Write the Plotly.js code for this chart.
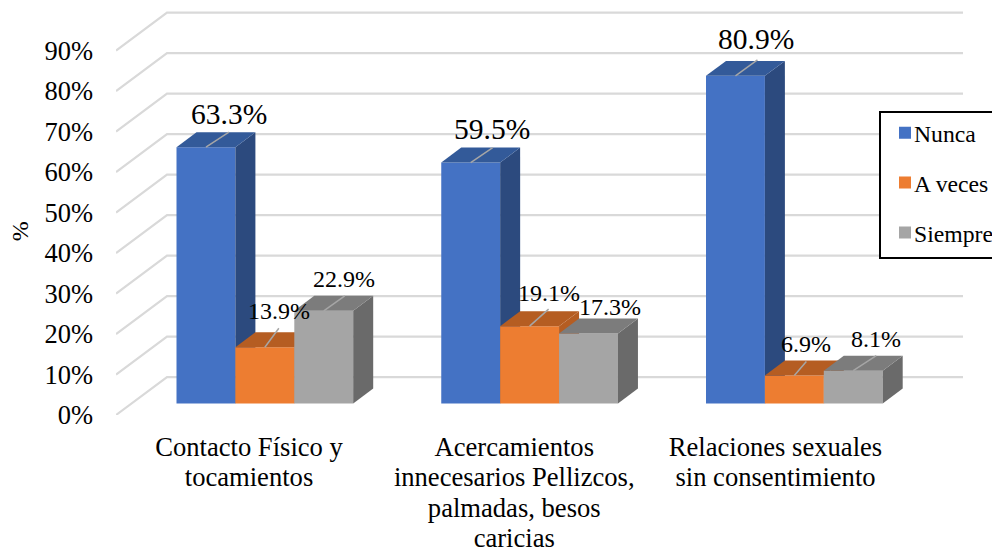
<!DOCTYPE html>
<html>
<head>
<meta charset="utf-8">
<script src="https://cdn.plot.ly/plotly-3.0.1.min.js"></script>
<style>html,body{margin:0;padding:0;background:#fff;overflow:hidden}</style>
</head>
<body>
<div id="chart" style="width:992px;height:547px"></div>
<script>
// ---- data ----
const categories = ['Contacto Físico y<br>tocamientos',
  'Acercamientos<br>innecesarios Pellizcos,<br>palmadas, besos<br>caricias',
  'Relaciones sexuales<br>sin consentimiento'];
const seriesNames = ['Nunca', 'A veces', 'Siempre'];
const nunca = [63.3, 59.5, 80.9];
const aVeces = [13.9, 19.1, 6.9];
const siempre = [22.9, 17.3, 8.1];
const yTicks = [0, 10, 20, 30, 40, 50, 60, 70, 80, 90];

// ---- styling and projection (not data) ----
const seriesValues = [nunca, aVeces, siempre];
const frontColors = ['#4472c4', '#ed7d31', '#a5a5a5'];
const topColors = ['#335a99', '#b55d22', '#7c7c7c'];
const sideColors = ['#2c4a7e', '#b55d22', '#6a6a6a'];
const FONT = '"Liberation Serif", serif';
const PXX = 264.75, PXY = 4.055;           // px per axis unit
const u = px => px / PXX, v = px => px / PXY;
const barW = u(58.9), groupLeft = u(-72.5);
const depthX = u(20), depthY = v(15);
const wallX = u(51), wallY = v(38);
const floorY = v(11.5);
const xMin = u(116 - 249), xMax = u(963 - 249);
const labelSize = [29.5, 24, 24];
// label offset from the front-centre of each bar top, px [series][category]
const labelShiftX = [[23, 21, 20.5], [14, 19.5, 11.5], [20.5, 21, 22.5]];
const labelShiftY = [[33, 34, 36.5], [36, 33, 31.5], [32, 26, 31.6]];
// leader line end, px from the same point (0 = no leader)
const leaderX = [[23, 22, 22], [14, 19, 12], [21, 0, 23]];
const leaderY = [[15, 15, 16], [19, 17, 14], [15, 0, 15]];
// small horizontal nudge of the category labels, px
const catNudge = [0, 0.5, -3];
// category text is larger than the line pitch of its tick font
const catText = c => c.split('<br>').map(l => '<span style="font-size:26.6px">' + l + '</span>').join('<br>');

const traces = [];
const annotations = [];

// walls: one line per tick, up the side wall then along the back wall
yTicks.forEach(t => traces.push({
  type: 'scatter', mode: 'lines', showlegend: false, hoverinfo: 'skip', zorder: 0,
  x: [xMin, xMin + wallX, xMax], y: [t, t + wallY, t + wallY],
  line: {color: '#d9d9d9', width: 2.2}
}));

seriesValues.forEach((vals, s) => {
  const xc = vals.map((_, c) => c + groupLeft + (s + 0.5) * barW);
  traces.push({
    type: 'bar', name: seriesNames[s], x: xc, y: vals, base: vals.map(() => floorY),
    width: vals.map(() => barW), marker: {color: frontColors[s], line: {width: 0}},
    legendgroup: seriesNames[s], zorder: s + 1, hoverinfo: 'skip'
  });
  vals.forEach((val, c) => {
    const l = xc[c] - barW / 2, r = xc[c] + barW / 2, top = floorY + val;
    traces.push({ // side face
      type: 'scatter', mode: 'lines', fill: 'toself', fillcolor: sideColors[s], showlegend: false,
      hoverinfo: 'skip', zorder: s + 1, line: {width: 0, color: sideColors[s]},
      x: [r, r + depthX, r + depthX, r, r], y: [floorY, floorY + depthY, top + depthY, top, floorY]
    });
    traces.push({ // top face
      type: 'scatter', mode: 'lines', fill: 'toself', fillcolor: topColors[s], showlegend: false,
      hoverinfo: 'skip', zorder: s + 1, line: {width: 0, color: topColors[s]},
      x: [l, l + depthX, r + depthX, r, l], y: [top, top + depthY, top + depthY, top, top]
    });
    if (leaderX[s][c]) traces.push({
      type: 'scatter', mode: 'lines', showlegend: false, hoverinfo: 'skip', zorder: s + 1,
      x: [xc[c], xc[c] + u(leaderX[s][c])], y: [top, top + v(leaderY[s][c])],
      line: {color: '#a6a6a6', width: 1.5}
    });
    annotations.push({
      xref: 'x', yref: 'y', x: xc[c], y: top, text: val.toFixed(1) + '%', showarrow: false,
      xanchor: 'center', yanchor: 'middle', xshift: labelShiftX[s][c], yshift: labelShiftY[s][c],
      font: {family: FONT, size: labelSize[s], color: '#000'}
    });
  });
});

// axis title sits below the axis centre in the reference
annotations.push({
  xref: 'paper', yref: 'paper', x: -96 / 847, y: (415 - 231) / 405.5, text: '%', showarrow: false,
  textangle: -90, xanchor: 'center', yanchor: 'middle',
  font: {family: FONT, size: 24, color: '#000'}
});

const layout = {
  width: 992, height: 547, paper_bgcolor: '#fff', plot_bgcolor: 'rgba(0,0,0,0)',
  margin: {l: 116, r: 29, t: 9.5, b: 132, autoexpand: false},
  barmode: 'overlay', showlegend: true, hovermode: false,
  font: {family: FONT, color: '#000'},
  xaxis: {
    type: 'linear', range: [xMin, xMax], showgrid: false, zeroline: false, showline: false,
    tickmode: 'array', tickvals: categories.map((_, i) => i + u(catNudge[i])), ticktext: categories.map(catText),
    ticks: '', ticklabelstandoff: 16, tickangle: 0, tickfont: {family: FONT, size: 23.5, color: '#000'}
  },
  yaxis: {
    range: [0, 100], showgrid: false, zeroline: false, showline: false,
    tickmode: 'array', tickvals: yTicks, ticktext: yTicks.map(t => t + '%'),
    ticks: '', ticklabelstandoff: 22, tickfont: {family: FONT, size: 26.5, color: '#000'}
  },
  legend: {
    x: (879 - 116) / 847, y: (415 - 111) / 405.5, xanchor: 'left', yanchor: 'top',
    bgcolor: '#fff', bordercolor: '#000', borderwidth: 2, tracegroupgap: 16,
    font: {family: FONT, size: 23.7, color: '#000'}
  },
  annotations
};
Plotly.newPlot('chart', traces, layout, {displayModeBar: false, staticPlot: true}).then(() => {
  // tighten the legend key against its text and centre the entries in the box
  document.querySelectorAll('.legend .legendtext').forEach(t => {
    t.setAttribute('x', parseFloat(t.getAttribute('x')) - 7);
    t.querySelectorAll('tspan[x]').forEach(s => s.setAttribute('x', parseFloat(s.getAttribute('x')) - 7));
  });
  document.querySelectorAll('.legend .legendsymbols').forEach(g => g.setAttribute('transform', 'translate(4,0)'));
  document.querySelectorAll('.legend .groups').forEach(g => {
    const m = /translate\(\s*([-\d.]+)[ ,]+([-\d.]+)\s*\)/.exec(g.getAttribute('transform') || '');
    const x = m ? parseFloat(m[1]) : 0, y = m ? parseFloat(m[2]) : 0;
    g.setAttribute('transform', 'translate(' + x + ',' + (y - 2.5) + ')');
  });
});
</script>
</body>
</html>
